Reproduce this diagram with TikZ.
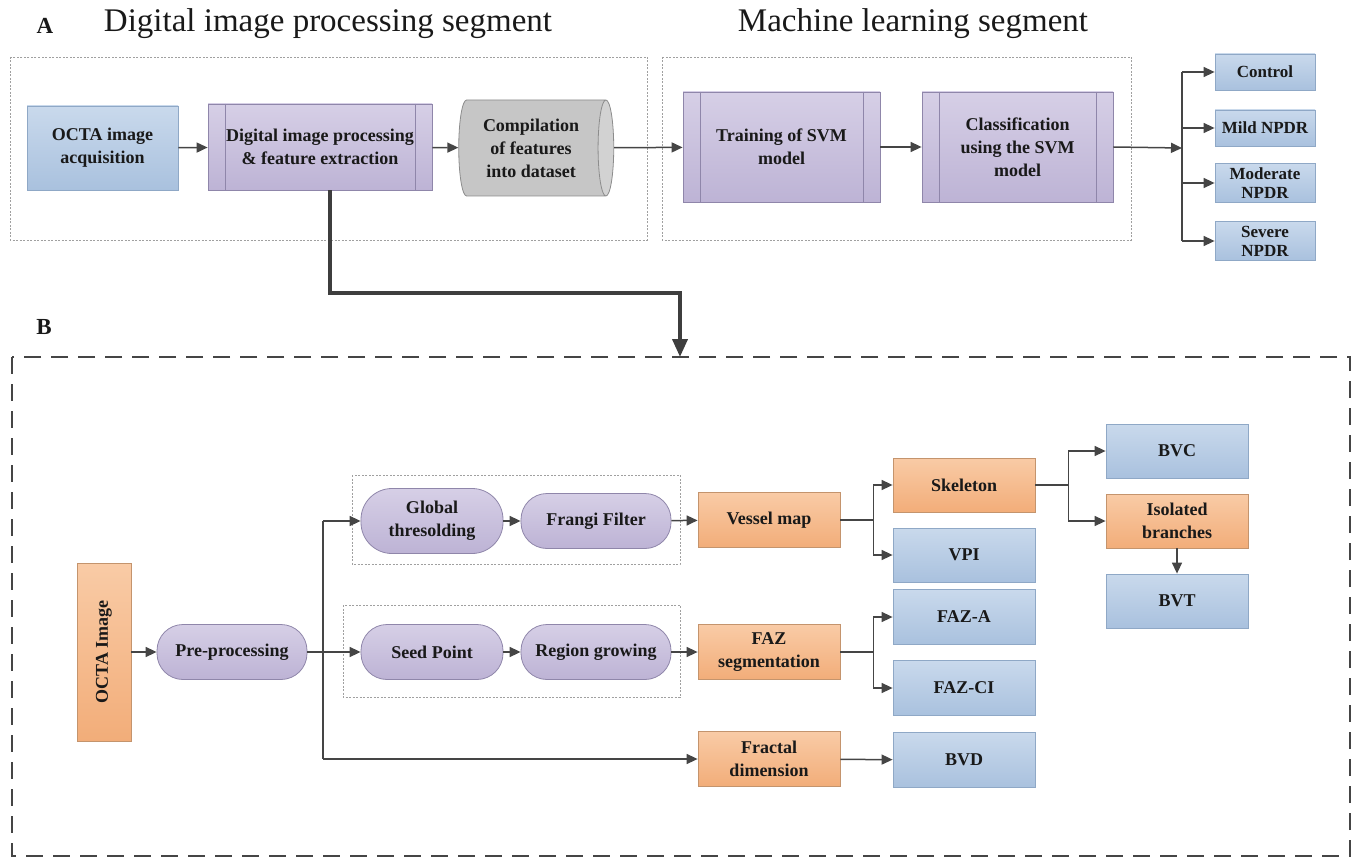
\documentclass[tikz,border=0pt]{standalone}
\usepackage{fontspec}
\setmainfont{Liberation Serif}
\usetikzlibrary{shapes.geometric,arrows.meta}
\definecolor{bluetop}{HTML}{C9D9EC}
\definecolor{bluebot}{HTML}{A9C1DE}
\definecolor{blueline}{HTML}{8FA8C6}
\definecolor{purtop}{HTML}{D6CFE6}
\definecolor{purbot}{HTML}{BDB3D5}
\definecolor{purline}{HTML}{8F86AA}
\definecolor{ortop}{HTML}{F9CBA6}
\definecolor{orbot}{HTML}{F2AD79}
\definecolor{orline}{HTML}{C4946D}
\definecolor{cyltop}{HTML}{D2D2D2}
\definecolor{cylbot}{HTML}{C6C6C6}
\definecolor{cylline}{HTML}{8C8C8C}
\definecolor{arr}{HTML}{454545}
\definecolor{dotline}{HTML}{A0A0A0}
\begin{document}
\begin{tikzpicture}[x=1pt,y=-1pt,
  box/.style={draw, line width=0.8pt, align=center, font=\fontsize{18}{23}\selectfont\bfseries, text=black!90, inner sep=2pt},
  bluebox/.style={box, draw=blueline, top color=bluetop, bottom color=bluebot},
  orbox/.style={box, draw=orline, top color=ortop, bottom color=orbot},
  purbox/.style={box, draw=purline, top color=purtop, bottom color=purbot},
  procbox/.style={purbox, path picture={
     \draw[purline, line width=0.8pt] ([xshift=17pt]path picture bounding box.north west) -- ([xshift=17pt]path picture bounding box.south west);
     \draw[purline, line width=0.8pt] ([xshift=-17pt]path picture bounding box.north east) -- ([xshift=-17pt]path picture bounding box.south east);}},
  pill/.style={purbox, rounded corners=26pt, minimum width=150pt, minimum height=55pt},
  cyl/.style={box, draw=cylline, shape=cylinder, aspect=0.25, cylinder uses custom fill, cylinder body fill=cylbot, cylinder end fill=cyltop},
  smallbox/.style={bluebox, minimum width=100pt, minimum height=36pt, font=\fontsize{17}{19}\selectfont\bfseries},
  bbox/.style={minimum width=142pt, minimum height=55pt},
  conn/.style={draw=arr, line width=1.5pt, -{Triangle[length=11pt,width=10pt]}},
  plain/.style={draw=arr, line width=1.5pt},
  bigarrow/.style={draw=arr!90!black, line width=3.8pt, -{Triangle[length=18pt,width=15pt]}},
  dotbox/.style={draw=dotline, line width=0.7pt, dash pattern=on 2pt off 1.5pt},
  bdash/.style={draw=arr, line width=2.8pt, dash pattern=on 17pt off 10pt},
  lbl/.style={font=\fontsize{23}{23}\selectfont\bfseries, text=black!90},
  title/.style={font=\fontsize{33}{33}\selectfont, text=black!90}
]
\useasboundingbox (0,0) rectangle (1360,861);

% ---------- Part A ----------
\node[lbl] (labA) at (45,26) {A};
\node[title] (ttlA) at (328,24) {Digital image processing segment};
\node[title] (ttlB) at (913,24) {Machine learning segment};

\draw[dotbox] (10,57) rectangle (647,240);
\draw[dotbox] (662,57) rectangle (1131,240);

\node[bluebox, minimum width=151pt, minimum height=84pt] (acq) at (102.5,148) {OCTA image\\acquisition};
\node[procbox, minimum width=224pt, minimum height=86pt] (dip) at (320,147) {Digital image processing\\\& feature extraction};
\node[cyl, minimum width=96pt, minimum height=155pt] (comp) at (531,148) {Compilation\\of features\\into dataset};
\node[procbox, minimum width=197pt, minimum height=110pt] (train) at (781.5,147) {Training of SVM\\model};
\node[procbox, minimum width=191pt, minimum height=110pt] (clas) at (1017.5,147) {Classification\\using the SVM\\model};

\node[smallbox] (ctrl) at (1265,72) {Control};
\node[smallbox] (mild) at (1265,128) {Mild NPDR};
\node[smallbox, minimum height=39pt] (mod) at (1265,183) {Moderate\\NPDR};
\node[smallbox, minimum height=39pt] (sev) at (1265,241) {Severe\\NPDR};

\draw[conn] (acq) -- (dip);
\draw[conn] (dip) -- (comp);
\draw[conn] (comp) -- (train);
\draw[conn] (train) -- (clas);
\coordinate (tr) at (1182,148);
\draw[conn] (clas.east) -- (tr);
\draw[plain] (tr |- ctrl) -- (tr |- sev);
\foreach \n in {ctrl,mild,mod,sev} \draw[conn] (tr |- \n) -- (\n.west);

% ---------- Part B ----------
\node[lbl] (labB) at (44,327) {B};
\draw[bdash] (12,357) rectangle (1350,856);
\coordinate (bend) at (680,293);
\coordinate (btop) at (680,357);
\draw[bigarrow] ([xshift=10pt]dip.south) |- (bend) -- (btop);

\draw[dotbox] (352,475) rectangle (680,564);
\draw[dotbox] (343,605) rectangle (680,697);

\node[orbox, rotate=90, minimum width=178pt, minimum height=54pt] (oimg) at (104,652) {OCTA Image};
\node[pill] (pre) at (232,652) {Pre-processing};
\node[pill, rounded corners=31pt, minimum width=142pt, minimum height=65pt] (glob) at (432,521) {Global\\thresolding};
\node[pill] (frangi) at (596,521) {Frangi Filter};
\node[pill, minimum width=142pt] (seed) at (432,652) {Seed Point};
\node[pill] (region) at (596,652) {Region growing};

\node[orbox, bbox] (vmap) at (769,520) {Vessel map};
\node[orbox, bbox] (faz) at (769,652) {FAZ\\segmentation};
\node[orbox, bbox] (fract) at (769,759) {Fractal\\dimension};

\node[orbox, bbox, minimum height=54pt] (skel) at (964,485) {Skeleton};
\node[bluebox, bbox, minimum height=54pt] (vpi) at (964,555) {VPI};
\node[bluebox, bbox] (faza) at (964,617) {FAZ-A};
\node[bluebox, bbox] (fazci) at (964,688) {FAZ-CI};
\node[bluebox, bbox] (bvd) at (964,760) {BVD};

\node[bluebox, bbox, minimum height=54pt] (bvc) at (1177,451) {BVC};
\node[orbox, bbox, minimum height=54pt] (iso) at (1177,521) {Isolated\\branches};
\node[bluebox, bbox, minimum height=54pt] (bvt) at (1177,601) {BVT};

\draw[conn] (oimg) -- (pre);
\coordinate (tb) at (323,652);
\draw[plain] (tb |- glob) -- (tb |- fract);
\draw[conn] (pre.east) -- (seed.west);
\draw[conn] (tb |- glob) -- (glob.west);
\draw[conn] (tb |- fract) -- (fract.west);
\draw[conn] (glob) -- (frangi);
\draw[conn] (frangi) -- (vmap);
\draw[conn] (seed) -- (region);
\draw[conn] (region) -- (faz);
\draw[conn] (fract) -- (bvd);

\draw[conn] (vmap.east) -- ++(33,0) |- (skel.west);
\draw[conn] (vmap.east) -- ++(33,0) |- (vpi.west);
\draw[conn] (faz.east) -- ++(33,0) |- (faza.west);
\draw[conn] (faz.east) -- ++(33,0) |- (fazci.west);
\draw[conn] (skel.east) -- ++(33,0) |- (bvc.west);
\draw[conn] (skel.east) -- ++(33,0) |- (iso.west);
\draw[conn] (iso) -- (bvt);
\end{tikzpicture}
\end{document}
